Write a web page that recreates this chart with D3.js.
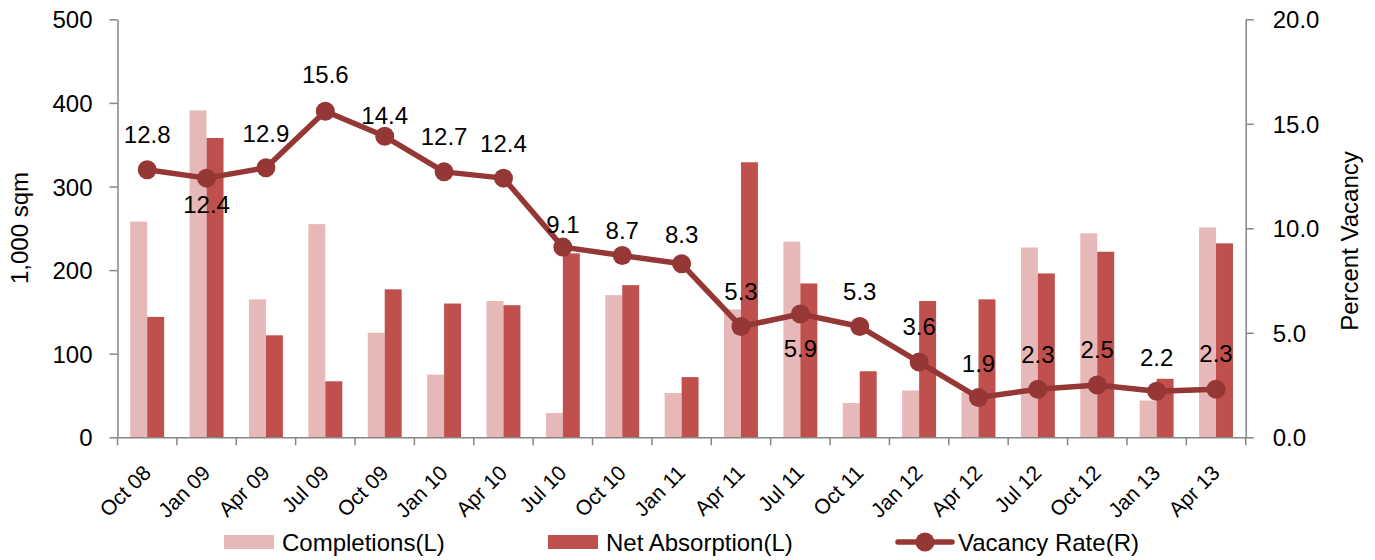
<!DOCTYPE html>
<html>
<head>
<meta charset="utf-8">
<script src="https://cdn.jsdelivr.net/npm/d3@7"></script>
<style>
  html, body { margin: 0; padding: 0; background: #fff; }
  svg { display: block; font-family: "Liberation Sans", Arial, sans-serif; }
</style>
</head>
<body>
<svg id="chart" width="1375" height="560"></svg>
<script>
// ---- data ----
const categories = ["Oct 08","Jan 09","Apr 09","Jul 09","Oct 09","Jan 10","Apr 10","Jul 10","Oct 10","Jan 11",
                    "Apr 11","Jul 11","Oct 11","Jan 12","Apr 12","Jul 12","Oct 12","Jan 13","Apr 13"];
const completions = [258, 391, 165, 255, 125, 75, 163, 29, 170, 53, 153, 234, 41, 56, 54, 227, 244, 44, 251];
const netAbsorption = [144, 358, 122, 67, 177, 160, 158, 220, 182, 72, 329, 184, 79, 163, 165, 196, 222, 70, 232];
const vacancyRate = [12.8, 12.4, 12.9, 15.6, 14.4, 12.7, 12.4, 9.1, 8.7, 8.3, 5.3, 5.9, 5.3, 3.6, 1.9, 2.3, 2.5, 2.2, 2.3];
const leftTicks = [0, 100, 200, 300, 400, 500];
const rightTicks = [0, 5, 10, 15, 20];
const seriesNames = ["Completions(L)", "Net Absorption(L)", "Vacancy Rate(R)"];

// ---- layout / style ----
const colors = { comp: "#E6B9B8", net: "#C0504D", line: "#953735", axis: "#868686", text: "#000" };
const plot = { left: 117.5, right: 1245.7, top: 19.3, bottom: 437.3 };
// label baseline offsets relative to each point (px)
const labelDy = [-27, 35, -26, -28, -12, -27, -26, -14, -16, -21, -27, 43, -27, -27, -26, -26, -27, -25, -27];

const svg = d3.select("#chart");

const x0 = d3.scaleBand().domain(categories).range([plot.left, plot.right]).paddingInner(0).paddingOuter(0);
const x1 = d3.scaleBand().domain(["comp", "net"]).range([0, x0.bandwidth()]).paddingInner(0).paddingOuter(0.75);
const yL = d3.scaleLinear().domain([0, 500]).range([plot.bottom, plot.top]);
const yR = d3.scaleLinear().domain([0, 20]).range([plot.bottom, plot.top]);

// bars
const rows = categories.map((c, i) => ({ c, comp: completions[i], net: netAbsorption[i] }));
const g = svg.append("g");
g.selectAll("rect.comp").data(rows).join("rect")
  .attr("x", d => x0(d.c) + x1("comp")).attr("width", x1.bandwidth())
  .attr("y", d => yL(d.comp)).attr("height", d => yL(0) - yL(d.comp))
  .attr("fill", colors.comp);
g.selectAll("rect.net").data(rows).join("rect")
  .attr("x", d => x0(d.c) + x1("net")).attr("width", x1.bandwidth())
  .attr("y", d => yL(d.net)).attr("height", d => yL(0) - yL(d.net))
  .attr("fill", colors.net);

// axes
function styleAxis(sel) {
  sel.selectAll("path.domain").attr("stroke", colors.axis).attr("stroke-width", 1.5);
  sel.selectAll(".tick line").attr("stroke", colors.axis).attr("stroke-width", 1.5);
  sel.selectAll(".tick text").attr("fill", colors.text).style("font-size", "24px")
     .style("font-family", '"Liberation Sans", Arial, sans-serif');
}
const axL = svg.append("g").attr("transform", `translate(${plot.left},0)`)
  .call(d3.axisLeft(yL).tickValues(leftTicks).tickSize(8).tickSizeOuter(0).tickPadding(17).tickFormat(d3.format("d")));
styleAxis(axL);
const axR = svg.append("g").attr("transform", `translate(${plot.right},0)`)
  .call(d3.axisRight(yR).tickValues(rightTicks).tickSize(8).tickSizeOuter(0).tickPadding(19).tickFormat(d3.format(".1f")));
styleAxis(axR);
axL.selectAll(".tick text").attr("dy", "0.36em");
axR.selectAll(".tick text").attr("dy", "0.36em");

// x axis
const axB = svg.append("g").attr("transform", `translate(0,${plot.bottom})`)
  .call(d3.axisBottom(x0).tickSize(0).tickSizeOuter(0));
axB.selectAll("path.domain").attr("stroke", colors.axis).attr("stroke-width", 1.5);
axB.selectAll(".tick text")
  .attr("text-anchor", "end")
  .attr("dy", null).attr("y", null)
  .attr("transform", "translate(5,37) rotate(-45)")
  .attr("fill", colors.text).style("font-size", "21px")
  .style("font-family", '"Liberation Sans", Arial, sans-serif');
// boundary ticks
const bounds = categories.map(c => x0(c)).concat([x0(categories[categories.length - 1]) + x0.bandwidth()]);
axB.selectAll("line.bt").data(bounds).join("line").attr("class", "bt")
  .attr("x1", d => d).attr("x2", d => d).attr("y1", 0).attr("y2", 8)
  .attr("stroke", colors.axis).attr("stroke-width", 1.5);

// line
const cx = c => x0(c) + x0.bandwidth() / 2;
const lineGen = d3.line().x((d, i) => cx(categories[i])).y(d => yR(d));
svg.append("path").datum(vacancyRate).attr("d", lineGen)
  .attr("fill", "none").attr("stroke", colors.line).attr("stroke-width", 5.5).attr("stroke-linejoin", "round");
svg.selectAll("circle.pt").data(vacancyRate).join("circle")
  .attr("cx", (d, i) => cx(categories[i])).attr("cy", d => yR(d)).attr("r", 9.5)
  .attr("fill", colors.line);
svg.selectAll("text.lbl").data(vacancyRate).join("text")
  .attr("x", (d, i) => cx(categories[i])).attr("y", (d, i) => yR(d) + labelDy[i])
  .attr("text-anchor", "middle").style("font-size", "24px").attr("fill", colors.text)
  .text(d => d3.format(".1f")(d));

// axis titles
svg.append("text").attr("transform", "translate(28,228) rotate(-90)")
  .attr("text-anchor", "middle").style("font-size", "24px").text("1,000 sqm");
svg.append("text").attr("transform", "translate(1358,241) rotate(-90)")
  .attr("text-anchor", "middle").style("font-size", "24px").text("Percent Vacancy");

// legend
const leg = svg.append("g");
leg.append("rect").attr("x", 224).attr("y", 535).attr("width", 50).attr("height", 14).attr("fill", colors.comp);
leg.append("text").attr("x", 282).attr("y", 551).style("font-size", "24px").text(seriesNames[0]);
leg.append("rect").attr("x", 548).attr("y", 535).attr("width", 50).attr("height", 14).attr("fill", colors.net);
leg.append("text").attr("x", 606).attr("y", 551).style("font-size", "24px").text(seriesNames[1]);
leg.append("line").attr("x1", 898).attr("x2", 952).attr("y1", 542).attr("y2", 542)
  .attr("stroke", colors.line).attr("stroke-width", 5.5).attr("stroke-linecap", "round");
leg.append("circle").attr("cx", 925).attr("cy", 542).attr("r", 9.5).attr("fill", colors.line);
leg.append("text").attr("x", 958).attr("y", 551).style("font-size", "24px").text(seriesNames[2]);
</script>
</body>
</html>
